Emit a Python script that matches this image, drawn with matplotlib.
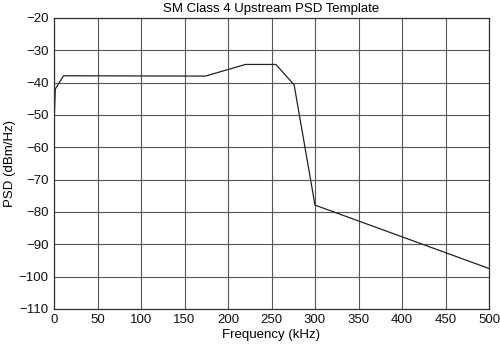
import matplotlib
matplotlib.use('Agg')
import matplotlib.pyplot as plt

# PSD template breakpoints
freq_khz = [0, 1.5, 11, 174, 220, 255, 276, 300, 500]
psd_dbm = [-53, -42, -37.9, -38, -34.4, -34.4, -40.7, -77.9, -97.5]

xticks = list(range(0, 501, 50))
yticks = list(range(-110, -19, 10))

plt.rcParams['font.family'] = ['Liberation Sans', 'DejaVu Sans']

fig = plt.figure(figsize=(5.0, 3.44), dpi=100)
ax = fig.add_axes([0.108, 0.102, 0.87, 0.846])
ax.plot(freq_khz, psd_dbm, color='#222222', lw=0.9)
ax.set_xlim(0, 500)
ax.set_ylim(-110, -20)
ax.set_xticks(xticks)
ax.set_yticks(yticks)
ax.set_yticklabels([str(t).replace('-', '\u2212') for t in yticks])
ax.grid(True, color='#555555', lw=0.8)
ax.tick_params(length=0, labelsize=9.5, pad=4, colors='#111111')
for s in ax.spines.values():
    s.set_color('#333333')
    s.set_linewidth(0.9)
ax.set_title('SM Class 4 Upstream PSD Template', fontsize=9.5, pad=4)
ax.set_xlabel('Frequency (kHz)', fontsize=9.5, labelpad=2)
ax.set_ylabel('PSD (dBm/Hz)', fontsize=9.5, labelpad=2)
fig.savefig('out.png', dpi=100)
